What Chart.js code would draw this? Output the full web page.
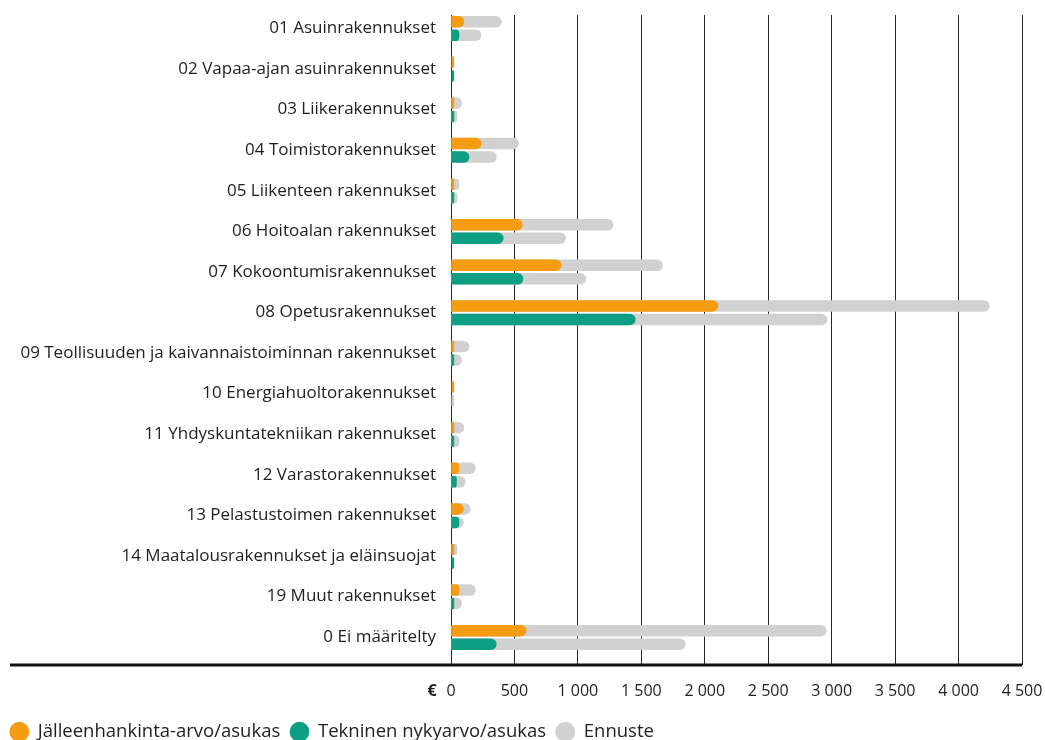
<!DOCTYPE html>
<html lang="fi">
<head>
<meta charset="utf-8">
<title>Rakennusten arvo asukasta kohden</title>
<script src="https://cdn.jsdelivr.net/npm/chart.js@4.4.1/dist/chart.umd.min.js"></script>
<style>
  html, body { margin: 0; padding: 0; background: #ffffff; }
  #wrap { width: 1045px; height: 740px; position: relative; }
</style>
</head>
<body>
<div id="wrap"><canvas id="chart"></canvas></div>
<script>
// Rakennusluokat
const categories = [
  '01 Asuinrakennukset',
  '02 Vapaa-ajan asuinrakennukset',
  '03 Liikerakennukset',
  '04 Toimistorakennukset',
  '05 Liikenteen rakennukset',
  '06 Hoitoalan rakennukset',
  '07 Kokoontumisrakennukset',
  '08 Opetusrakennukset',
  '09 Teollisuuden ja kaivannaistoiminnan rakennukset',
  '10 Energiahuoltorakennukset',
  '11 Yhdyskuntatekniikan rakennukset',
  '12 Varastorakennukset',
  '13 Pelastustoimen rakennukset',
  '14 Maatalousrakennukset ja eläinsuojat',
  '19 Muut rakennukset',
  '0 Ei määritelty'
];

// €/asukas
const jalleenhankintaArvo = [105, 25, 25, 240, 25, 565, 870, 2105, 25, 25, 25, 65, 100, 25, 65, 595];
const tekninenNykyarvo    = [65, 25, 25, 145, 25, 415, 570, 1455, 25, 0, 25, 45, 65, 25, 25, 360];
const ennusteJalleenhankinta = [400, 0, 85, 535, 65, 1280, 1670, 4245, 145, 0, 105, 195, 155, 50, 195, 2960];
const ennusteTekninen        = [240, 0, 50, 360, 50, 905, 1065, 2965, 85, 25, 65, 115, 100, 0, 85, 1850];

const xTicks = { min: 0, max: 4500, step: 500 };

const FONT = "'Open Sans', 'DejaVu Sans', sans-serif";
const ORANGE = '#F59C12';
const GREEN = '#0E9E82';
const GREY = '#D1D1D1';
const TEXT = '#1e1e1e';
const TICK_PAD = 17;

function fmt(v) {
  return String(v).replace(/\B(?=(\d{3})+(?!\d))/g, '\u00a0');
}

// Thick baseline under the plot and the currency mark before the first tick
const baselinePlugin = {
  id: 'baseline',
  afterDraw(chart) {
    const { ctx, chartArea } = chart;
    const x = chart.scales.x;
    ctx.save();
    ctx.strokeStyle = '#111111';
    ctx.lineWidth = 3;
    ctx.beginPath();
    ctx.moveTo(10, chartArea.bottom + 0.5);
    ctx.lineTo(chartArea.right, chartArea.bottom + 0.5);
    ctx.stroke();

    ctx.fillStyle = TEXT;
    ctx.font = 'bold 16px ' + FONT;
    ctx.textAlign = 'center';
    ctx.textBaseline = 'middle';
    ctx.fillText('€', x.getPixelForValue(0) - 19, chartArea.bottom + TICK_PAD + 9.6);
    ctx.restore();
  }
};

const barCommon = {
  borderRadius: 7,
  borderSkipped: 'start',
  categoryPercentage: 1,
  barPercentage: 0.85
};

new Chart(document.getElementById('chart'), {
  type: 'bar',
  data: {
    labels: categories,
    datasets: [
      Object.assign({ label: 'Jälleenhankinta-arvo/asukas', data: jalleenhankintaArvo, backgroundColor: ORANGE, stack: 'a' }, barCommon),
      Object.assign({ label: 'Tekninen nykyarvo/asukas', data: tekninenNykyarvo, backgroundColor: GREEN, stack: 'b' }, barCommon),
      Object.assign({ label: 'Ennuste', data: ennusteJalleenhankinta, backgroundColor: GREY, stack: 'a' }, barCommon),
      Object.assign({ label: 'Ennuste (tekninen)', data: ennusteTekninen, backgroundColor: GREY, stack: 'b' }, barCommon),
      // empty third slot keeps the pair at the top of each row
      Object.assign({ label: 'väli', data: categories.map(() => 0), backgroundColor: 'rgba(0,0,0,0)', stack: 'c' }, barCommon)
    ]
  },
  options: {
    indexAxis: 'y',
    responsive: true,
    maintainAspectRatio: false,
    animation: false,
    layout: { padding: { top: 15, right: 23, bottom: -11, left: 0 } },
    scales: {
      x: {
        type: 'linear',
        min: xTicks.min,
        max: xTicks.max,
        stacked: false,
        ticks: {
          stepSize: xTicks.step,
          padding: TICK_PAD,
          maxRotation: 0,
          color: TEXT,
          font: { family: FONT, size: 16 },
          callback: (v) => fmt(v)
        },
        grid: { color: '#262626', lineWidth: 1, drawTicks: false },
        border: { display: false },
        afterFit(scale) {
          scale.height = 48;
          scale.paddingLeft = 0;
          scale.paddingRight = 0;
        }
      },
      y: {
        type: 'category',
        stacked: true,
        ticks: {
          padding: 15,
          labelOffset: -7,
          color: TEXT,
          font: { family: FONT, size: 17 },
          autoSkip: false
        },
        grid: { display: false, drawTicks: false },
        border: { display: false },
        afterFit(scale) {
          scale.width = 451;
          scale.paddingTop = 0;
          scale.paddingBottom = 0;
        }
      }
    },
    plugins: {
      tooltip: { enabled: false },
      legend: {
        position: 'bottom',
        align: 'start',
        labels: {
          usePointStyle: true,
          pointStyle: 'circle',
          boxHeight: 14,
          padding: 10,
          color: TEXT,
          font: { family: FONT, size: 18.5 },
          filter: (item) => item.datasetIndex < 3
        }
      }
    }
  },
  plugins: [baselinePlugin]
});
</script>
</body>
</html>
